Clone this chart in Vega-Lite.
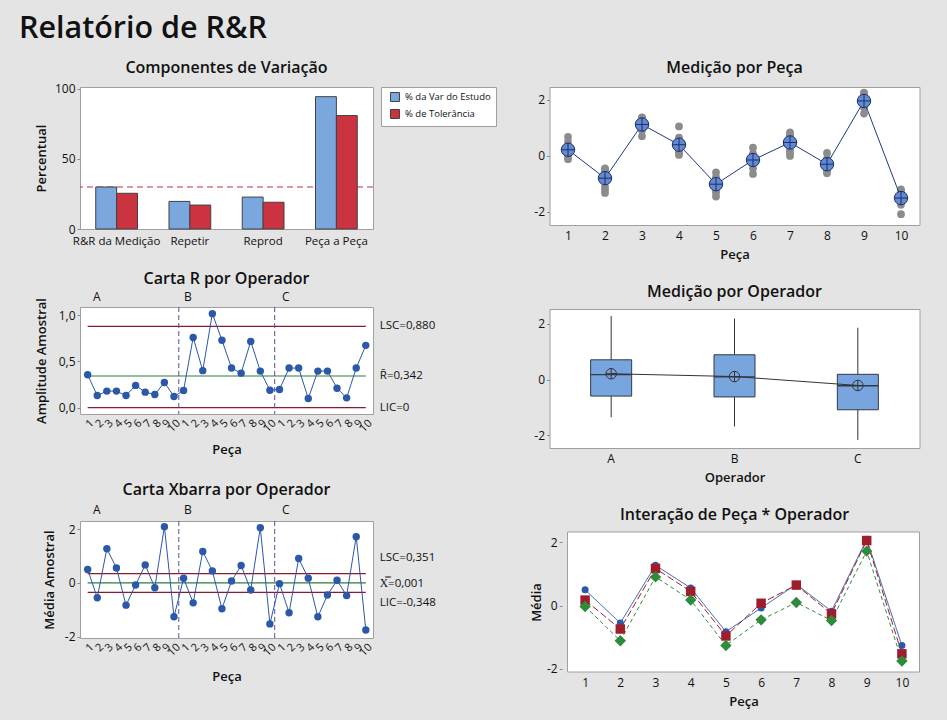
{
"$schema":"https://vega.github.io/schema/vega-lite/v6.json",
"background":"#e4e4e4",
"padding":{"left":18,"top":14,"right":28,"bottom":12},
"title":{"text":"Relatório de R&R","anchor":"start","fontSize":30.5,"fontWeight":600,"dx":-16,"offset":14.5,"color":"#111","font":"Open Sans"},
"config":{
 "font":"Open Sans",
 "view":{"fill":"white","stroke":"#a0a0a0","strokeWidth":1},
 "title":{"fontSize":16,"fontWeight":600,"color":"#111","font":"Open Sans"},
 "axis":{"domain":false,"grid":false,"tickSize":3,"tickColor":"#8a8a8a","labelFontSize":12,"labelColor":"#111","titleFontSize":13,"titleFontWeight":600,"titleColor":"#111","labelPadding":2,"labelFont":"Open Sans","titleFont":"Open Sans"},
 "legend":{"orient":"right","offset":8,"padding":5,"strokeColor":"#a0a0a0","fillColor":"white","symbolType":"square","symbolSize":80,"symbolStrokeColor":"#404040","symbolStrokeWidth":1,"labelFontSize":9.5,"labelFont":"Open Sans","labelColor":"#111","rowPadding":3,"labelOffset":5,"symbolOffset":4}
},
"datasets":{
 "comp":[
  {"comp":"R&R da Medição","measure":"% da Var do Estudo","value":30.0},
  {"comp":"R&R da Medição","measure":"% de Tolerância","value":25.5},
  {"comp":"Repetir","measure":"% da Var do Estudo","value":19.7},
  {"comp":"Repetir","measure":"% de Tolerância","value":17.1},
  {"comp":"Reprod","measure":"% da Var do Estudo","value":22.8},
  {"comp":"Reprod","measure":"% de Tolerância","value":19.1},
  {"comp":"Peça a Peça","measure":"% da Var do Estudo","value":94.5},
  {"comp":"Peça a Peça","measure":"% de Tolerância","value":81.0}
 ],
 "sub":[
  {"idx":1,"op":"A","part":1,"r":0.355,"xbar":0.50},
  {"idx":2,"op":"A","part":2,"r":0.13,"xbar":-0.55},
  {"idx":3,"op":"A","part":3,"r":0.178,"xbar":1.275},
  {"idx":4,"op":"A","part":4,"r":0.178,"xbar":0.56},
  {"idx":5,"op":"A","part":5,"r":0.13,"xbar":-0.825},
  {"idx":6,"op":"A","part":6,"r":0.24,"xbar":-0.075},
  {"idx":7,"op":"A","part":7,"r":0.167,"xbar":0.675},
  {"idx":8,"op":"A","part":8,"r":0.141,"xbar":-0.175},
  {"idx":9,"op":"A","part":9,"r":0.272,"xbar":2.10},
  {"idx":10,"op":"A","part":10,"r":0.12,"xbar":-1.26},
  {"idx":11,"op":"B","part":1,"r":0.185,"xbar":0.175},
  {"idx":12,"op":"B","part":2,"r":0.76,"xbar":-0.74},
  {"idx":13,"op":"B","part":3,"r":0.40,"xbar":1.175},
  {"idx":14,"op":"B","part":4,"r":1.018,"xbar":0.45},
  {"idx":15,"op":"B","part":5,"r":0.73,"xbar":-0.96},
  {"idx":16,"op":"B","part":6,"r":0.428,"xbar":0.075},
  {"idx":17,"op":"B","part":7,"r":0.373,"xbar":0.65},
  {"idx":18,"op":"B","part":8,"r":0.717,"xbar":-0.26},
  {"idx":19,"op":"B","part":9,"r":0.395,"xbar":2.06},
  {"idx":20,"op":"B","part":10,"r":0.188,"xbar":-1.525},
  {"idx":21,"op":"C","part":1,"r":0.196,"xbar":-0.025},
  {"idx":22,"op":"C","part":2,"r":0.428,"xbar":-1.11},
  {"idx":23,"op":"C","part":3,"r":0.428,"xbar":0.91},
  {"idx":24,"op":"C","part":4,"r":0.098,"xbar":0.18},
  {"idx":25,"op":"C","part":5,"r":0.395,"xbar":-1.26},
  {"idx":26,"op":"C","part":6,"r":0.395,"xbar":-0.45},
  {"idx":27,"op":"C","part":7,"r":0.21,"xbar":0.10},
  {"idx":28,"op":"C","part":8,"r":0.105,"xbar":-0.47},
  {"idx":29,"op":"C","part":9,"r":0.428,"xbar":1.725},
  {"idx":30,"op":"C","part":10,"r":0.674,"xbar":-1.75}
 ],
 "meas":[
  {"part":1,"op":"A","value":0.68},{"part":1,"op":"A","value":0.32},{"part":1,"op":"A","value":0.50},
  {"part":2,"op":"A","value":-0.485},{"part":2,"op":"A","value":-0.615},{"part":2,"op":"A","value":-0.55},
  {"part":3,"op":"A","value":1.36},{"part":3,"op":"A","value":1.19},{"part":3,"op":"A","value":1.275},
  {"part":4,"op":"A","value":0.65},{"part":4,"op":"A","value":0.47},{"part":4,"op":"A","value":0.56},
  {"part":5,"op":"A","value":-0.76},{"part":5,"op":"A","value":-0.89},{"part":5,"op":"A","value":-0.825},
  {"part":6,"op":"A","value":0.045},{"part":6,"op":"A","value":-0.195},{"part":6,"op":"A","value":-0.075},
  {"part":7,"op":"A","value":0.76},{"part":7,"op":"A","value":0.59},{"part":7,"op":"A","value":0.675},
  {"part":8,"op":"A","value":-0.105},{"part":8,"op":"A","value":-0.245},{"part":8,"op":"A","value":-0.175},
  {"part":9,"op":"A","value":2.24},{"part":9,"op":"A","value":1.96},{"part":9,"op":"A","value":2.10},
  {"part":10,"op":"A","value":-1.20},{"part":10,"op":"A","value":-1.32},{"part":10,"op":"A","value":-1.26},
  {"part":1,"op":"B","value":0.27},{"part":1,"op":"B","value":0.08},{"part":1,"op":"B","value":0.175},
  {"part":2,"op":"B","value":-0.45},{"part":2,"op":"B","value":-1.21},{"part":2,"op":"B","value":-0.56},
  {"part":3,"op":"B","value":1.375},{"part":3,"op":"B","value":0.975},{"part":3,"op":"B","value":1.175},
  {"part":4,"op":"B","value":1.05},{"part":4,"op":"B","value":0.03},{"part":4,"op":"B","value":0.27},
  {"part":5,"op":"B","value":-0.595},{"part":5,"op":"B","value":-1.325},{"part":5,"op":"B","value":-0.96},
  {"part":6,"op":"B","value":0.29},{"part":6,"op":"B","value":-0.14},{"part":6,"op":"B","value":0.075},
  {"part":7,"op":"B","value":0.84},{"part":7,"op":"B","value":0.465},{"part":7,"op":"B","value":0.65},
  {"part":8,"op":"B","value":0.10},{"part":8,"op":"B","value":-0.62},{"part":8,"op":"B","value":-0.26},
  {"part":9,"op":"B","value":2.26},{"part":9,"op":"B","value":1.86},{"part":9,"op":"B","value":2.06},
  {"part":10,"op":"B","value":-1.43},{"part":10,"op":"B","value":-1.62},{"part":10,"op":"B","value":-1.525},
  {"part":1,"op":"C","value":0.07},{"part":1,"op":"C","value":-0.12},{"part":1,"op":"C","value":-0.025},
  {"part":2,"op":"C","value":-0.90},{"part":2,"op":"C","value":-1.33},{"part":2,"op":"C","value":-1.11},
  {"part":3,"op":"C","value":1.12},{"part":3,"op":"C","value":0.70},{"part":3,"op":"C","value":0.91},
  {"part":4,"op":"C","value":0.23},{"part":4,"op":"C","value":0.13},{"part":4,"op":"C","value":0.18},
  {"part":5,"op":"C","value":-1.06},{"part":5,"op":"C","value":-1.46},{"part":5,"op":"C","value":-1.26},
  {"part":6,"op":"C","value":-0.25},{"part":6,"op":"C","value":-0.65},{"part":6,"op":"C","value":-0.45},
  {"part":7,"op":"C","value":0.205},{"part":7,"op":"C","value":-0.005},{"part":7,"op":"C","value":0.10},
  {"part":8,"op":"C","value":-0.42},{"part":8,"op":"C","value":-0.52},{"part":8,"op":"C","value":-0.47},
  {"part":9,"op":"C","value":1.94},{"part":9,"op":"C","value":1.51},{"part":9,"op":"C","value":1.725},
  {"part":10,"op":"C","value":-1.41},{"part":10,"op":"C","value":-2.09},{"part":10,"op":"C","value":-1.75}
 ],
 "box":[
  {"op":"A","lo":-1.35,"q1":-0.59,"med":0.18,"q3":0.71,"hi":2.28,"mean":0.21},
  {"op":"B","lo":-1.68,"q1":-0.62,"med":0.10,"q3":0.89,"hi":2.19,"mean":0.11},
  {"op":"C","lo":-2.16,"q1":-1.08,"med":-0.22,"q3":0.19,"hi":1.86,"mean":-0.21}
 ],
 "limR":[
  {"kind":"LSC","value":0.88,"label":"LSC=0,880"},
  {"kind":"C","value":0.342,"label":"R\u0304=0,342"},
  {"kind":"LIC","value":0,"label":"LIC=0"}
 ],
 "limX":[
  {"kind":"LSC","value":0.351,"label":"LSC=0,351"},
  {"kind":"C","value":0.001,"label":"X\u033f=0,001"},
  {"kind":"LIC","value":-0.348,"label":"LIC=-0,348"}
 ],
 "bounds":[{"boundary":10.5},{"boundary":20.5}]
},
"resolve":{"scale":{"color":"independent","strokeDash":"independent","shape":"independent","size":"independent"},"legend":{"color":"independent"}},
"hconcat":[
 {"resolve":{"scale":{"color":"independent"},"legend":{"color":"independent"}},
  "vconcat":[
  {"width":293,"height":142,
   "title":{"text":"Componentes de Variação","offset":6.5},
   "layer":[
    {"data":{"values":[{}]},
     "mark":{"type":"rule","color":"#c0323f","strokeDash":[6,4],"strokeWidth":1.2},
     "encoding":{"y":{"datum":30,"type":"quantitative","scale":{"domain":[0,101.4],"nice":false}}}},
    {"data":{"name":"comp"},
     "mark":{"type":"bar","stroke":"#404040","strokeWidth":1},
     "encoding":{
      "x":{"field":"comp","type":"nominal","sort":["R&R da Medição","Repetir","Reprod","Peça a Peça"],"scale":{"paddingInner":0.43,"paddingOuter":0.215},"axis":{"title":null,"labelAngle":0,"ticks":false,"tickSize":0,"labelPadding":6,"labelFontSize":11.5}},
      "xOffset":{"field":"measure","type":"nominal","sort":["% da Var do Estudo","% de Tolerância"]},
      "y":{"field":"value","type":"quantitative","scale":{"domain":[0,101.4],"nice":false},"axis":{"title":"Percentual","values":[0,50,100],"titlePadding":6}},
      "color":{"field":"measure","type":"nominal","scale":{"domain":["% da Var do Estudo","% de Tolerância"],"range":["#7ba7df","#cc3341"]},"legend":{"title":null}}
     }}
   ]},
  {"width":293,"height":107,
   "title":{"text":"Carta R por Operador","offset":3},
   "layer":[
    {"data":{"name":"limR"},
     "mark":{"type":"rule","strokeWidth":1.2},
     "encoding":{
      "x":{"datum":1,"type":"quantitative","scale":{"domain":[0.2,30.75],"nice":false,"zero":false},"axis":null},
      "x2":{"datum":30},
      "y":{"field":"value","type":"quantitative","scale":{"domain":[-0.07,1.09],"nice":false,"zero":false},"axis":{"title":"Amplitude Amostral","values":[0,0.5,1],"format":".1f","labelExpr":"replace(datum.label, '.', ',')","titlePadding":9.5}},
      "color":{"field":"kind","type":"nominal","scale":{"domain":["LSC","C","LIC"],"range":["#8b1a2e","#2e7d3a","#8b1a2e"]},"legend":null}}},
    {"data":{"name":"bounds"},
     "mark":{"type":"rule","color":"#5a4f96","strokeDash":[5,3],"strokeWidth":1},
     "encoding":{"x":{"field":"boundary","type":"quantitative","scale":{"domain":[0.2,30.75],"nice":false,"zero":false},"axis":null}}},
    {"data":{"name":"sub"},
     "mark":{"type":"line","color":"#2b58a8","strokeWidth":1},
     "encoding":{
      "x":{"field":"idx","type":"quantitative","scale":{"domain":[0.2,30.75],"nice":false,"zero":false},"axis":{"title":"Peça","values":[1,2,3,4,5,6,7,8,9,10,11,12,13,14,15,16,17,18,19,20,21,22,23,24,25,26,27,28,29,30],"labelExpr":"(datum.value - 1) % 10 + 1","labelAngle":-45,"ticks":false,"tickSize":0,"labelFontSize":11,"labelPadding":3,"labelOverlap":false,"labelFlush":false,"titlePadding":10}},
      "y":{"field":"r","type":"quantitative","scale":{"domain":[-0.07,1.09],"nice":false,"zero":false},"axis":null}}},
    {"data":{"name":"sub"},
     "mark":{"type":"circle","color":"#2b58a8","size":55,"opacity":1},
     "encoding":{
      "x":{"field":"idx","type":"quantitative","scale":{"domain":[0.2,30.75],"nice":false,"zero":false},"axis":{"orient":"top","title":null,"values":[1.9,11.4,21.6],"labelExpr":"datum.value < 10 ? 'A' : (datum.value < 20 ? 'B' : 'C')","ticks":false,"tickSize":0,"labelPadding":4,"labelFontSize":12,"labelFlush":false,"labelOverlap":false}},
      "y":{"field":"r","type":"quantitative","scale":{"domain":[-0.07,1.09],"nice":false,"zero":false},"axis":null}}},
    {"data":{"name":"limR"},
     "mark":{"type":"text","align":"left","baseline":"middle","dx":14,"fontSize":11.5,"color":"#111"},
     "encoding":{
      "x":{"datum":30,"type":"quantitative","scale":{"domain":[0.2,30.75],"nice":false,"zero":false},"axis":null},
      "y":{"field":"value","type":"quantitative","scale":{"domain":[-0.07,1.09],"nice":false,"zero":false},"axis":null},
      "text":{"field":"label"}}}
   ],
   "resolve":{"axis":{"x":"independent","y":"independent"}}},
  {"width":293,"height":117,
   "title":{"text":"Carta Xbarra por Operador","offset":5},
   "layer":[
    {"data":{"name":"limX"},
     "mark":{"type":"rule","strokeWidth":1.2},
     "encoding":{
      "x":{"datum":1,"type":"quantitative","scale":{"domain":[0.2,30.75],"nice":false,"zero":false},"axis":null},
      "x2":{"datum":30},
      "y":{"field":"value","type":"quantitative","scale":{"domain":[-2.05,2.31],"nice":false,"zero":false},"axis":{"title":"Média Amostral","values":[-2,0,2],"labelExpr":"replace(datum.label, '\u2212', '-')","titlePadding":8}},
      "color":{"field":"kind","type":"nominal","scale":{"domain":["LSC","C","LIC"],"range":["#8b1a2e","#2e7d3a","#8b1a2e"]},"legend":null}}},
    {"data":{"name":"bounds"},
     "mark":{"type":"rule","color":"#5a4f96","strokeDash":[5,3],"strokeWidth":1},
     "encoding":{"x":{"field":"boundary","type":"quantitative","scale":{"domain":[0.2,30.75],"nice":false,"zero":false},"axis":null}}},
    {"data":{"name":"sub"},
     "mark":{"type":"line","color":"#2b58a8","strokeWidth":1},
     "encoding":{
      "x":{"field":"idx","type":"quantitative","scale":{"domain":[0.2,30.75],"nice":false,"zero":false},"axis":{"title":"Peça","values":[1,2,3,4,5,6,7,8,9,10,11,12,13,14,15,16,17,18,19,20,21,22,23,24,25,26,27,28,29,30],"labelExpr":"(datum.value - 1) % 10 + 1","labelAngle":-45,"ticks":false,"tickSize":0,"labelFontSize":11,"labelPadding":3,"labelOverlap":false,"labelFlush":false,"titlePadding":13}},
      "y":{"field":"xbar","type":"quantitative","scale":{"domain":[-2.05,2.31],"nice":false,"zero":false},"axis":null}}},
    {"data":{"name":"sub"},
     "mark":{"type":"circle","color":"#2b58a8","size":55,"opacity":1},
     "encoding":{
      "x":{"field":"idx","type":"quantitative","scale":{"domain":[0.2,30.75],"nice":false,"zero":false},"axis":{"orient":"top","title":null,"values":[1.9,11.4,21.6],"labelExpr":"datum.value < 10 ? 'A' : (datum.value < 20 ? 'B' : 'C')","ticks":false,"tickSize":0,"labelPadding":5,"labelFontSize":12,"labelFlush":false,"labelOverlap":false}},
      "y":{"field":"xbar","type":"quantitative","scale":{"domain":[-2.05,2.31],"nice":false,"zero":false},"axis":null}}},
    {"data":{"name":"limX"},
     "transform":[{"filter":"datum.kind === 'LSC'"}],
     "mark":{"type":"text","align":"left","baseline":"middle","dx":14,"dy":-16,"fontSize":11.5,"color":"#111"},
     "encoding":{
      "x":{"datum":30,"type":"quantitative","scale":{"domain":[0.2,30.75],"nice":false,"zero":false},"axis":null},
      "y":{"field":"value","type":"quantitative","scale":{"domain":[-2.05,2.31],"nice":false,"zero":false},"axis":null},
      "text":{"field":"label"}}},
    {"data":{"name":"limX"},
     "transform":[{"filter":"datum.kind === 'C'"}],
     "mark":{"type":"text","align":"left","baseline":"middle","dx":14,"dy":1,"fontSize":11.5,"color":"#111"},
     "encoding":{
      "x":{"datum":30,"type":"quantitative","scale":{"domain":[0.2,30.75],"nice":false,"zero":false},"axis":null},
      "y":{"field":"value","type":"quantitative","scale":{"domain":[-2.05,2.31],"nice":false,"zero":false},"axis":null},
      "text":{"field":"label"}}},
    {"data":{"name":"limX"},
     "transform":[{"filter":"datum.kind === 'LIC'"}],
     "mark":{"type":"text","align":"left","baseline":"middle","dx":14,"dy":11,"fontSize":11.5,"color":"#111"},
     "encoding":{
      "x":{"datum":30,"type":"quantitative","scale":{"domain":[0.2,30.75],"nice":false,"zero":false},"axis":null},
      "y":{"field":"value","type":"quantitative","scale":{"domain":[-2.05,2.31],"nice":false,"zero":false},"axis":null},
      "text":{"field":"label"}}}
   ],
   "resolve":{"axis":{"x":"independent","y":"independent"}}}
 ],"spacing":23},
 {"resolve":{"scale":{"color":"independent","strokeDash":"independent","shape":"independent","size":"independent"}},
  "vconcat":[
  {"width":370,"height":138,
   "title":{"text":"Medição por Peça","offset":11.5},
   "data":{"name":"meas"},
   "encoding":{"x":{"field":"part","type":"quantitative","scale":{"domain":[0.5,10.5],"nice":false,"zero":false},"axis":{"title":"Peça","values":[1,2,3,4,5,6,7,8,9,10],"format":"d","ticks":false,"tickSize":0,"labelPadding":5,"labelFlush":false,"labelOverlap":false,"titlePadding":7}}},
   "layer":[
    {"mark":{"type":"circle","color":"#8c8c8c","size":60,"opacity":1},
     "encoding":{"y":{"field":"value","type":"quantitative","scale":{"domain":[-2.475,2.46],"nice":false,"zero":false},"axis":{"title":null,"values":[-2,0,2],"labelExpr":"replace(datum.label, '\u2212', '-')"}}}},
    {"mark":{"type":"line","color":"#1f3a80","strokeWidth":1},
     "encoding":{"y":{"aggregate":"mean","field":"value","type":"quantitative","scale":{"domain":[-2.475,2.46],"nice":false,"zero":false},"axis":null}}},
    {"mark":{"type":"point","shape":"circle","filled":true,"fill":"#6389d0","stroke":"#1c2f6e","strokeWidth":1,"size":180,"opacity":1},
     "encoding":{"y":{"aggregate":"mean","field":"value","type":"quantitative","scale":{"domain":[-2.475,2.46],"nice":false,"zero":false},"axis":null}}},
    {"mark":{"type":"point","shape":"M-1,0L1,0M0,-1L0,1","filled":false,"stroke":"#1c2f6e","strokeWidth":1,"size":180,"opacity":1},
     "encoding":{"y":{"aggregate":"mean","field":"value","type":"quantitative","scale":{"domain":[-2.475,2.46],"nice":false,"zero":false},"axis":null}}}
   ],
   "resolve":{"axis":{"y":"independent"}}},
  {"width":370,"height":139,
   "title":{"text":"Medição por Operador","offset":9},
   "data":{"name":"box"},
   "encoding":{"x":{"field":"op","type":"nominal","scale":{"paddingInner":0,"paddingOuter":0},"axis":{"title":"Operador","labelAngle":0,"ticks":false,"tickSize":0,"labelPadding":5,"titlePadding":7}}},
   "layer":[
    {"mark":{"type":"rule","color":"#333333","strokeWidth":1},
     "encoding":{"y":{"field":"lo","type":"quantitative","scale":{"domain":[-2.45,2.53],"nice":false,"zero":false},"axis":{"title":null,"values":[-2,0,2],"labelExpr":"replace(datum.label, '\u2212', '-')"}},"y2":{"field":"hi"}}},
    {"mark":{"type":"bar","size":41,"fill":"#79a5de","stroke":"#2f3a4a","strokeWidth":1},
     "encoding":{"y":{"field":"q1","type":"quantitative","scale":{"domain":[-2.45,2.53],"nice":false,"zero":false},"axis":null},"y2":{"field":"q3"}}},
    {"mark":{"type":"tick","size":41,"thickness":1.3,"color":"#2f3a4a","opacity":1},
     "encoding":{"y":{"field":"med","type":"quantitative","scale":{"domain":[-2.45,2.53],"nice":false,"zero":false},"axis":null}}},
    {"mark":{"type":"line","color":"#333333","strokeWidth":1},
     "encoding":{"y":{"field":"mean","type":"quantitative","scale":{"domain":[-2.45,2.53],"nice":false,"zero":false},"axis":null}}},
    {"mark":{"type":"point","shape":"circle","filled":false,"stroke":"#333333","strokeWidth":1,"size":110,"opacity":1},
     "encoding":{"y":{"field":"mean","type":"quantitative","scale":{"domain":[-2.45,2.53],"nice":false,"zero":false},"axis":null}}},
    {"mark":{"type":"point","shape":"M-1,0L1,0M0,-1L0,1","filled":false,"stroke":"#333333","strokeWidth":1,"size":110,"opacity":1},
     "encoding":{"y":{"field":"mean","type":"quantitative","scale":{"domain":[-2.45,2.53],"nice":false,"zero":false},"axis":null}}}
   ],
   "resolve":{"axis":{"y":"independent"}}},
  {"width":370,"height":140,
   "title":{"text":"Interação de Peça * Operador","offset":9},
   "view":{"stroke":null,"fill":null},
   "layer":[
    {"data":{"values":[{}]},
     "mark":{"type":"rect","fill":"white","stroke":"#a0a0a0","strokeWidth":1},
     "encoding":{
      "x":{"datum":0.5,"type":"quantitative","scale":{"domain":[0.5,10.5],"range":[18,370],"nice":false,"zero":false},"axis":null},
      "x2":{"datum":10.5},
      "y":{"datum":-2.10,"type":"quantitative","scale":{"domain":[-2.10,2.33],"nice":false,"zero":false},"axis":null},
      "y2":{"datum":2.33}}},
    {"data":{"name":"sub"},
     "mark":{"type":"line","strokeWidth":1},
     "encoding":{
      "x":{"field":"part","type":"quantitative","scale":{"domain":[0.5,10.5],"range":[18,370],"nice":false,"zero":false},"axis":{"title":"Peça","values":[1,2,3,4,5,6,7,8,9,10],"format":"d","ticks":false,"tickSize":0,"labelPadding":5,"labelFlush":false,"labelOverlap":false,"titlePadding":7}},
      "y":{"field":"xbar","type":"quantitative","scale":{"domain":[-2.10,2.33],"nice":false,"zero":false},"axis":{"title":"Média","values":[-2,0,2],"labelExpr":"replace(datum.label, '\u2212', '-')","offset":-12.7,"titlePadding":2.5}},
      "color":{"field":"op","type":"nominal","scale":{"domain":["A","B","C"],"range":["#2b58a8","#a01d2d","#2e8b3c"]},"legend":null},
      "strokeDash":{"field":"op","type":"nominal","scale":{"domain":["A","B","C"],"range":[[1,0],[7,3],[4,3]]},"legend":null}}},
    {"data":{"name":"sub"},
     "mark":{"type":"point","filled":true,"opacity":1},
     "encoding":{
      "x":{"field":"part","type":"quantitative","scale":{"domain":[0.5,10.5],"range":[18,370],"nice":false,"zero":false},"axis":null},
      "y":{"field":"xbar","type":"quantitative","scale":{"domain":[-2.10,2.33],"nice":false,"zero":false},"axis":null},
      "color":{"field":"op","type":"nominal","scale":{"domain":["A","B","C"],"range":["#2b58a8","#a01d2d","#2e8b3c"]},"legend":null},
      "shape":{"field":"op","type":"nominal","scale":{"domain":["A","B","C"],"range":["circle","square","diamond"]},"legend":null},
      "size":{"field":"op","type":"nominal","scale":{"domain":["A","B","C"],"range":[50,130,140]},"legend":null}}}
   ],
   "resolve":{"axis":{"x":"independent","y":"independent"}}}
 ],"spacing":21}
],
"spacing":33.5
}
